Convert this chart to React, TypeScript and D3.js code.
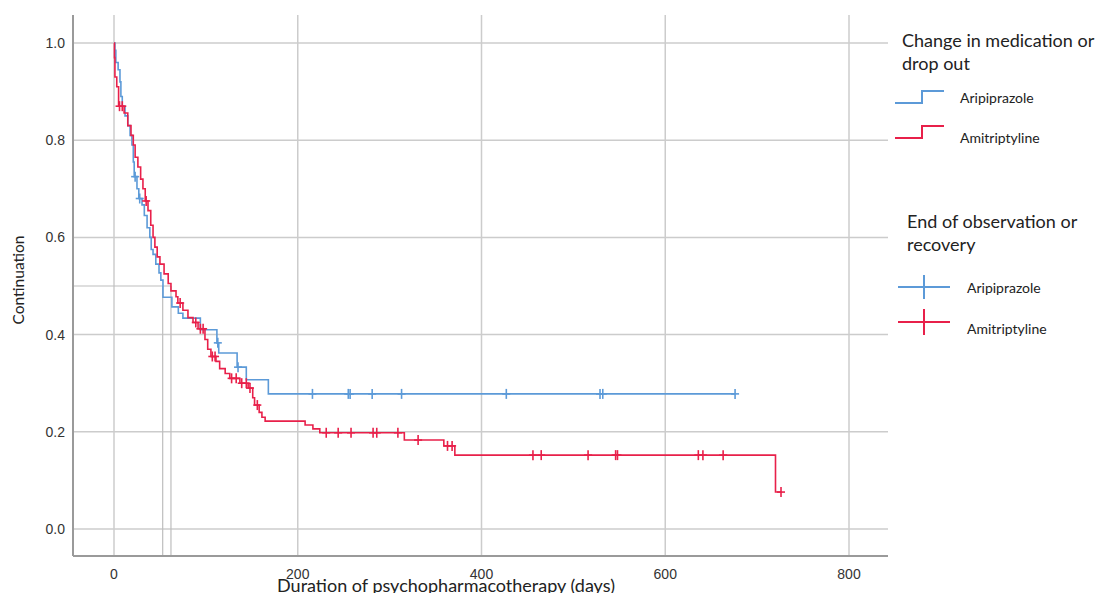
import React from "react";
import * as d3 from "d3";

const xTicks = [0, 200, 400, 600, 800];
const yTicks = [0, 0.2, 0.4, 0.6, 0.8, 1.0];

// Aripiprazole: event times (days) and survival after each event
const ariTimes = [1, 2, 4.5, 6.5, 7.5, 9, 12, 15, 17.5, 19.5, 21, 22, 25, 27, 30.5, 33, 36, 39, 40.5, 42.5, 45.5, 49, 51, 53.3, 63, 70, 75, 94, 112, 114, 134, 144, 168];
const ariSurv = [0.985, 0.96, 0.945, 0.92, 0.89, 0.87, 0.85, 0.83, 0.81, 0.79, 0.755, 0.725, 0.70, 0.68, 0.667, 0.645, 0.62, 0.60, 0.575, 0.565, 0.545, 0.527, 0.512, 0.477, 0.457, 0.444, 0.434, 0.41, 0.383, 0.362, 0.333, 0.307, 0.278];
const ariCensor = [23, 28, 113, 135, 216, 255, 257, 281, 313, 427, 529, 532, 676];

// Amitriptyline
const amiTimes = [0.5, 1, 3, 5, 11, 15, 18.5, 21, 23, 26, 29, 31.5, 34, 37, 40, 42.5, 44.5, 47, 50, 54.5, 59, 62, 67.5, 69.5, 75, 80.5, 86, 91.5, 99, 102, 105.5, 111, 115, 121, 126, 137, 146, 151, 153, 158, 161, 164.5, 208, 216.5, 224, 316, 359, 371, 720];
const amiSurv = [0.97, 0.93, 0.91, 0.87, 0.856, 0.83, 0.81, 0.79, 0.765, 0.745, 0.72, 0.70, 0.675, 0.655, 0.625, 0.6, 0.58, 0.56, 0.545, 0.525, 0.505, 0.49, 0.478, 0.465, 0.45, 0.435, 0.425, 0.412, 0.39, 0.37, 0.355, 0.345, 0.33, 0.32, 0.31, 0.30, 0.29, 0.27, 0.255, 0.24, 0.23, 0.222, 0.214, 0.206, 0.198, 0.183, 0.171, 0.152, 0.076];
const amiCensor = [6, 9, 35, 72, 89, 94, 97, 107, 110, 128, 133, 139, 144, 148, 156, 231, 244, 258, 282, 286, 309, 331, 363, 368, 456, 465, 516, 546, 548, 636, 641, 663, 726];

const medianTimes = [53, 62];
const medianLevel = 0.5;

const BLUE = "#5c9ad8";
const RED = "#e8204a";
const GRID = "#cccccc";
const FONT = "Lato, 'Open Sans', sans-serif";
const TICKFONT = "'Liberation Sans', Arial, sans-serif";

const x = d3.scaleLinear().domain([0, 800]).range([114, 849]);
const y = d3.scaleLinear().domain([0, 1]).range([529, 43]);
const left = 73, right = 888, top = 15, bottom = 556;

function survAt(times: number[], surv: number[], t: number) {
  let s = 1;
  for (let i = 0; i < times.length; i++) if (times[i] <= t) s = surv[i];
  return s;
}

function stepPath(times: number[], surv: number[], censor: number[]) {
  const end = Math.max(times[times.length - 1], ...censor);
  const pts: [number, number][] = [[0, 1]];
  times.forEach((t, i) => pts.push([t, surv[i]]));
  pts.push([end, surv[surv.length - 1]]);
  const line = d3.line<[number, number]>().x(d => x(d[0])).y(d => y(d[1])).curve(d3.curveStepAfter);
  return line(pts) || "";
}

function Censors({ times, surv, censor, color }: { times: number[]; surv: number[]; censor: number[]; color: string }) {
  return (
    <g stroke={color} strokeWidth={1.6}>
      {censor.map((c, i) => {
        const cx = x(c), cy = y(survAt(times, surv, c));
        return (
          <g key={i}>
            <line x1={cx} x2={cx} y1={cy - 5} y2={cy + 5} />
            <line x1={cx - 4} x2={cx + 4} y1={cy} y2={cy} />
          </g>
        );
      })}
    </g>
  );
}

export default function App() {
  return (
    <svg width={1100} height={593} style={{ position: "absolute", left: 0, top: 0, background: "#fff" }}>
      {/* grid */}
      <g stroke={GRID} strokeWidth={1.5}>
        {yTicks.map(t => <line key={"h" + t} x1={left} x2={right} y1={y(t)} y2={y(t)} />)}
        {xTicks.map(t => <line key={"v" + t} x1={x(t)} x2={x(t)} y1={top} y2={bottom} />)}
      </g>
      {/* median reference lines */}
      <g stroke="#bdbdbd" strokeWidth={1.2}>
        <line x1={left} x2={x(d3.max(medianTimes)!)} y1={y(medianLevel)} y2={y(medianLevel)} />
        {medianTimes.map(m => <line key={m} x1={x(m)} x2={x(m)} y1={y(medianLevel)} y2={bottom} />)}
      </g>
      {/* axes */}
      <g stroke="#9a9a9a" strokeWidth={2}>
        <line x1={left} x2={left} y1={top} y2={bottom} />
        <line x1={left} x2={right} y1={bottom} y2={bottom} />
      </g>
      <g fontFamily={TICKFONT} fontSize={14} fill="#333">
        {yTicks.map(t => (
          <text key={"yl" + t} x={65} y={y(t)} textAnchor="end" dominantBaseline="central">{t.toFixed(1)}</text>
        ))}
        {xTicks.map(t => (
          <text key={"xl" + t} x={x(t)} y={574} textAnchor="middle" dominantBaseline="central">{t}</text>
        ))}
      </g>
      <text x={446} y={592} textAnchor="middle" fontFamily={FONT} fontSize={18} fill="#222">Duration of psychopharmacotherapy (days)</text>
      <text transform="translate(24,280) rotate(-90)" textAnchor="middle" fontFamily={FONT} fontSize={15.5} fill="#222">Continuation</text>

      {/* curves */}
      <path d={stepPath(ariTimes, ariSurv, ariCensor)} fill="none" stroke={BLUE} strokeWidth={1.6} />
      <path d={stepPath(amiTimes, amiSurv, amiCensor)} fill="none" stroke={RED} strokeWidth={1.6} />
      <Censors times={ariTimes} surv={ariSurv} censor={ariCensor} color={BLUE} />
      <Censors times={amiTimes} surv={amiSurv} censor={amiCensor} color={RED} />

      {/* legend */}
      <g fontFamily={FONT} fill="#222">
        <text x={902} y={47} fontSize={18}>Change in medication or</text>
        <text x={902} y={70} fontSize={18}>drop out</text>
        <path d="M895,103 H922 V91 H944" fill="none" stroke={BLUE} strokeWidth={2} />
        <text x={960} y={97} fontSize={14} dominantBaseline="central">Aripiprazole</text>
        <path d="M895,138 H922 V126 H944" fill="none" stroke={RED} strokeWidth={2} />
        <text x={960} y={137} fontSize={14} dominantBaseline="central">Amitriptyline</text>

        <text x={907} y={228} fontSize={18}>End of observation or</text>
        <text x={907} y={251} fontSize={18}>recovery</text>
        <g stroke={BLUE} strokeWidth={2}>
          <line x1={898} x2={950} y1={287} y2={287} />
          <line x1={924} x2={924} y1={275} y2={299} />
        </g>
        <text x={967} y={287} fontSize={14} dominantBaseline="central">Aripiprazole</text>
        <g stroke={RED} strokeWidth={2}>
          <line x1={898} x2={950} y1={322} y2={322} />
          <line x1={924} x2={924} y1={309} y2={335} />
        </g>
        <text x={967} y={328} fontSize={14} dominantBaseline="central">Amitriptyline</text>
      </g>
    </svg>
  );
}
